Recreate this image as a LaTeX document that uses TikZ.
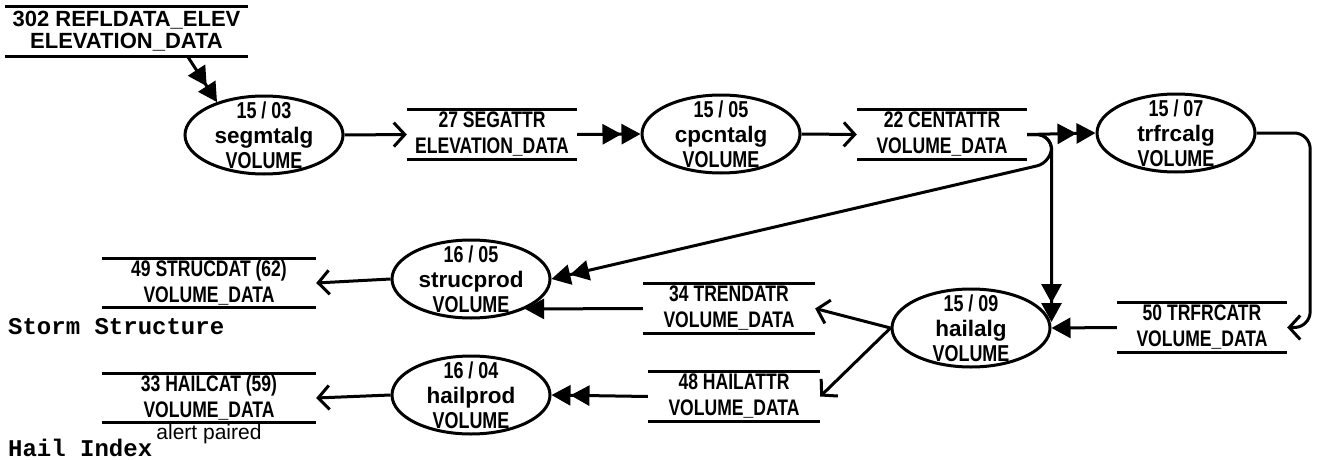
\documentclass[tikz,border=0pt]{standalone}
\usepackage{fontspec}
\setmainfont{Liberation Sans}
\setmonofont{Liberation Mono}
\newfontfamily\narrowsans{Liberation Sans}[FakeStretch=0.78]
\usetikzlibrary{shapes.geometric,arrows.meta,positioning,calc}

\newcommand{\storefont}{\narrowsans\bfseries\fontsize{22.5}{26}\selectfont}
\newcommand{\proclabel}[3]{{\narrowsans\bfseries #1}\\{\bfseries\fontsize{22.5}{25}\selectfont #2}\\{\narrowsans\bfseries #3}}

\tikzset{
  proc/.style={ellipse, draw, line width=3pt, minimum width=158pt, minimum height=78pt, inner sep=0pt},
  proctext/.style={align=center, font=\fontsize{23}{25}\selectfont},
  store/.style={minimum width=170pt, minimum height=49pt, inner sep=0pt, align=center, font=\storefont},
  flow/.style={line width=3pt, -{Straight Barb[length=11pt,width=24pt]}},
  feed/.style={line width=3pt, -{Triangle[length=19pt,width=20pt] Triangle[length=19pt,width=20pt]}},
  feedone/.style={line width=3pt, -{Triangle[length=19pt,width=20pt]}},
  plainlbl/.style={inner sep=0pt, font=\ttfamily\bfseries\fontsize{24}{24}\selectfont}
}

\begin{document}
\begin{tikzpicture}[x=1pt,y=-1pt]
\useasboundingbox (0,0) rectangle (1325,460);

% data stores
\node[store, minimum width=243pt, font=\bfseries\fontsize{22}{22}\selectfont] (rfl) at (126.5,31.5) {302 REFLDATA\_ELEV\\ELEVATION\_DATA};
\node[store] (segattr) at (492,134.5) {27 SEGATTR\\ELEVATION\_DATA};
\node[store] (centattr) at (942,134.5) {22 CENTATTR\\VOLUME\_DATA};
\node[store] (trfrcatr) at (1202,327.5) {50 TRFRCATR\\VOLUME\_DATA};
\node[store, minimum width=172pt] (trendatr) at (729,308.5) {34 TRENDATR\\VOLUME\_DATA};
\node[store, minimum width=172pt] (hailattr) at (734,396.5) {48 HAILATTR\\VOLUME\_DATA};
\node[store, minimum width=214pt, minimum height=48pt] (strucdat) at (209,283) {49 STRUCDAT (62)\\VOLUME\_DATA};
\node[store, minimum width=214pt, minimum height=48pt] (hailcat) at (209,398) {33 HAILCAT (59)\\VOLUME\_DATA};
\foreach \s in {rfl,segattr,centattr,trfrcatr,trendatr,hailattr,strucdat,hailcat}
  \draw[line width=3pt] (\s.north west) -- (\s.north east) (\s.south west) -- (\s.south east);

% processes
\node[proc, label={[proctext]center:\proclabel{15 / 03}{segmtalg}{VOLUME}}] (segmtalg) at (264,135) {};
\node[proc, label={[proctext]center:\proclabel{15 / 05}{cpcntalg}{VOLUME}}] (cpcntalg) at (721,134) {};
\node[proc, label={[proctext]center:\proclabel{15 / 07}{trfrcalg}{VOLUME}}] (trfrcalg) at (1176,133) {};
\node[proc, label={[proctext]center:\proclabel{15 / 09}{hailalg}{VOLUME}}] (hailalg) at (971,328) {};
\node[proc, label={[proctext]center:\proclabel{16 / 05}{strucprod}{VOLUME}}] (strucprod) at (471,279) {};
\node[proc, label={[proctext]center:\proclabel{16 / 04}{hailprod}{VOLUME}}] (hailprod) at (471,395) {};

% labels
\node[plainlbl, anchor=base west] (stormlbl) at (8,334) {Storm Structure};
\node[plainlbl, anchor=base west] (haillbl) at (8,456) {Hail Index};
\node[below=2pt of hailcat, inner sep=0pt, font=\fontsize{21}{21}\selectfont] (alertlbl) {alert paired};

% flows
\draw[feed] ([xshift=61pt]rfl.south) -- (segmtalg.145);
\draw[flow] (segmtalg.east) -- (segattr.west);
\draw[feed] (segattr.east) -- (cpcntalg.west);
\draw[flow] (cpcntalg.east) -- (centattr.west);
\draw[feed] (centattr.east) -- (trfrcalg.west);
\draw[flow, rounded corners=16pt] (trfrcalg.east) -| ([xshift=23pt]trfrcatr.east) -- (trfrcatr.east);
\draw[feed, rounded corners=15pt] (centattr.east) -| ([yshift=6pt]hailalg.east);
\draw[feed, rounded corners=15pt] (centattr.east) -| ($(centattr.east -| hailalg.east)+(0,28)$) -- (strucprod.east);
\draw[feedone] (trfrcatr.west) -- (hailalg.east);
\draw[flow] (hailalg.west) -- (trendatr.east);
\draw[flow] (hailalg.west) -- (hailattr.east);
\draw[feedone] (trendatr.west) -- (strucprod.-29);
\draw[feed] (hailattr.west) -- (hailprod.east);
\draw[flow] (strucprod.west) -- (strucdat.east);
\draw[flow] (hailprod.west) -- (hailcat.east);
\end{tikzpicture}
\end{document}
